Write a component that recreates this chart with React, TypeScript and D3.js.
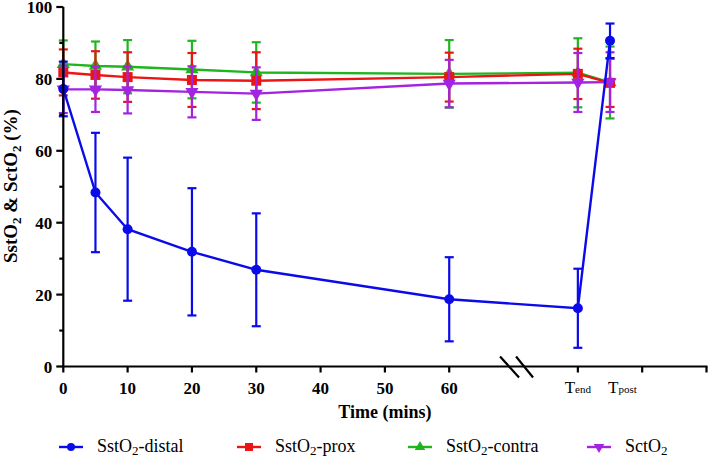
import React from "react";
import * as d3 from "d3";

// x positions on the axis (Tend placed at 80, Tpost at 85)
const times = [0, 5, 10, 20, 30, 60, 80, 85];

const distalMean = [77.2, 48.4, 38.2, 31.9, 26.9, 18.7, 16.2, 90.6];
const distalSD = [7.6, 16.6, 19.9, 17.7, 15.7, 11.7, 11.0, 4.8];
const proxMean = [81.8, 81.1, 80.5, 79.7, 79.5, 80.5, 81.4, 78.9];
const proxSD = [6.4, 6.6, 6.9, 7.5, 7.9, 6.8, 7.0, 6.7];
const contraMean = [84.1, 83.6, 83.4, 82.6, 81.8, 81.4, 81.7, 79.0];
const contraSD = [6.6, 6.8, 7.4, 8.0, 8.4, 9.4, 9.6, 10.0];
const sctMean = [77.1, 77.1, 76.9, 76.4, 75.9, 78.7, 79.0, 79.1];
const sctSD = [6.6, 6.3, 6.5, 7.1, 7.3, 6.6, 8.2, 8.3];

const xNumTicks = [0, 10, 20, 30, 40, 50, 60];
const xExtraTicks = [80, 90, 100];
const yMajorTicks = [0, 20, 40, 60, 80, 100];
const yMinorTicks = [10, 30, 50, 70, 90];
const breakAt = 70.7;

type Series = { name: string; sub: string; suffix: string; color: string; shape: string; mean: number[]; sd: number[] };

const seriesDraw: Series[] = [
  { name: "SstO", sub: "2", suffix: "-contra", color: "#1fb51f", shape: "tri-up", mean: contraMean, sd: contraSD },
  { name: "SstO", sub: "2", suffix: "-prox", color: "#ec1515", shape: "square", mean: proxMean, sd: proxSD },
  { name: "SctO", sub: "2", suffix: "", color: "#a323e0", shape: "tri-down", mean: sctMean, sd: sctSD },
  { name: "SstO", sub: "2", suffix: "-distal", color: "#0b0bea", shape: "circle", mean: distalMean, sd: distalSD },
];
const legendOrder = [3, 1, 0, 2];
const legendX = [71, 249, 420, 599];

const FONT = "'Liberation Serif', 'Times New Roman', serif";

const x = d3.scaleLinear().domain([0, 100]).range([63.3, 706.5]);
const y = d3.scaleLinear().domain([0, 100]).range([366.5, 7]);

function Marker({ shape, cx, cy, color, s }: { shape: string; cx: number; cy: number; color: string; s: number }) {
  if (shape === "circle") return <circle cx={cx} cy={cy} r={s / 2} fill={color} />;
  if (shape === "square") return <rect x={cx - s / 2} y={cy - s / 2} width={s} height={s} fill={color} />;
  const sym = d3.symbol().type(d3.symbolTriangle).size(s * s * 0.75)();
  return <path d={sym || ""} transform={`translate(${cx},${cy})${shape === "tri-down" ? " rotate(180)" : ""}`} fill={color} />;
}

export default function App() {
  const line = d3.line<number>().x((_, i) => x(times[i])).y((d) => y(d));
  return (
    <svg width={709} height={459} style={{ position: "absolute", left: 0, top: 0, background: "#fff" }}>
      <rect width={709} height={459} fill="#fff" />
      {/* series */}
      {seriesDraw.map((s, si) => (
        <g key={si}>
          {s.mean.map((m, i) => {
            const cx = x(times[i]);
            const top = y(m + s.sd[i]);
            const bot = y(m - s.sd[i]);
            return (
              <g key={i} stroke={s.color} strokeWidth={2.2}>
                <line x1={cx} x2={cx} y1={top} y2={bot} />
                <line x1={cx - 4.5} x2={cx + 4.5} y1={top} y2={top} />
                <line x1={cx - 4.5} x2={cx + 4.5} y1={bot} y2={bot} />
              </g>
            );
          })}
          <path d={line(s.mean) || ""} fill="none" stroke={s.color} strokeWidth={2.4} />
          {s.mean.map((m, i) => (
            <Marker key={i} shape={s.shape} cx={x(times[i])} cy={y(m)} color={s.color} s={10} />
          ))}
        </g>
      ))}

      {/* axes */}
      <g stroke="#000" strokeWidth={2.2}>
        <line x1={x(0) - 1} x2={x(100) + 1} y1={y(0)} y2={y(0)} />
        <line x1={x(0)} x2={x(0)} y1={y(0) + 1} y2={y(100)} />
        {[...xNumTicks, ...xExtraTicks].map((t) => (
          <line key={t} x1={x(t)} x2={x(t)} y1={y(0)} y2={y(0) + 6} />
        ))}
        {yMajorTicks.map((t) => (
          <line key={t} x1={x(0) - 7} x2={x(0)} y1={y(t)} y2={y(t)} />
        ))}
        {yMinorTicks.map((t) => (
          <line key={t} x1={x(0) - 4} x2={x(0)} y1={y(t)} y2={y(t)} />
        ))}
        <line x1={x(breakAt) - 18} x2={x(breakAt) + 1} y1={y(0) - 10} y2={y(0) + 11} />
        <line x1={x(breakAt) - 2} x2={x(breakAt) + 15} y1={y(0) - 10} y2={y(0) + 11} />
      </g>

      {/* tick labels */}
      <g fontFamily={FONT} fontWeight="bold" fontSize={17} fill="#000">
        {xNumTicks.map((t) => (
          <text key={t} x={x(t)} y={y(0) + 27} textAnchor="middle">{t}</text>
        ))}
        {yMajorTicks.map((t) => (
          <text key={t} x={x(0) - 11} y={y(t) + 6} textAnchor="end">{t}</text>
        ))}
      </g>
      <g fontFamily={FONT} fontSize={17} fill="#000">
        <text x={x(80)} y={y(0) + 26} textAnchor="middle">
          T<tspan fontSize={11}>end</tspan>
        </text>
        <text x={x(85) - 2} y={y(0) + 26} textAnchor="start">
          T<tspan fontSize={11}>post</tspan>
        </text>
      </g>

      {/* axis titles */}
      <text x={(x(0) + x(100)) / 2} y={418} textAnchor="middle" fontFamily={FONT} fontWeight="bold" fontSize={18}>
        Time (mins)
      </text>
      <text transform={`translate(17,186) rotate(-90)`} textAnchor="middle" fontFamily={FONT} fontWeight="bold" fontSize={19}>
        SstO<tspan fontSize={13} dy={4}>2</tspan>
        <tspan dy={-4}> &amp; SctO</tspan>
        <tspan fontSize={13} dy={4}>2</tspan>
        <tspan dy={-4}> (%)</tspan>
      </text>

      {/* legend */}
      {legendOrder.map((si, k) => {
        const s = seriesDraw[si];
        const cx = legendX[k];
        return (
          <g key={k}>
            <line x1={cx - 12} x2={cx + 12} y1={447} y2={447} stroke={s.color} strokeWidth={2.4} />
            <Marker shape={s.shape} cx={cx} cy={447} color={s.color} s={8} />
            <text x={cx + 26} y={452} fontFamily={FONT} fontSize={18} fill="#000">
              {s.name}
              <tspan fontSize={13} dy={3}>{s.sub}</tspan>
              <tspan dy={-3}>{s.suffix}</tspan>
            </text>
          </g>
        );
      })}
    </svg>
  );
}
